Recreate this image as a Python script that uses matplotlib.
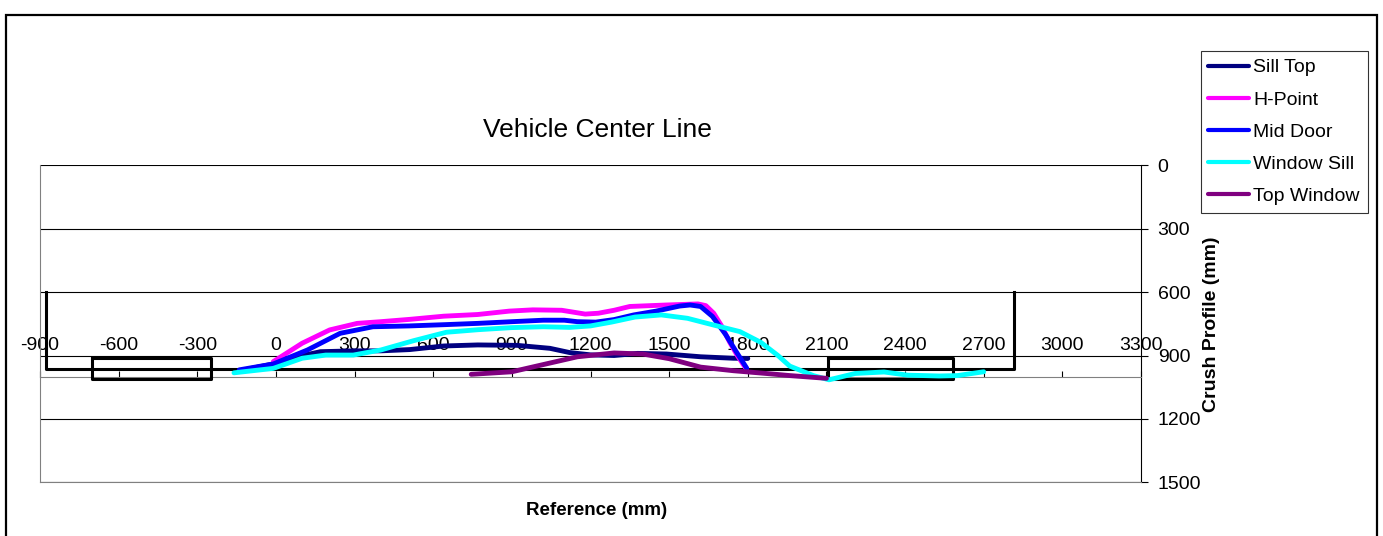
import numpy as np
import matplotlib
matplotlib.use("Agg")
import matplotlib.pyplot as plt
from matplotlib.patches import Rectangle

plt.rcParams['font.family'] = ['Liberation Sans', 'DejaVu Sans']
plt.rcParams['axes.unicode_minus'] = False

# Crush profile data (reference mm, crush mm)
sill_top_x = [-110, -10, 80, 170, 300, 400, 510, 640, 770, 920, 1045, 1120, 1200, 1290, 1380, 1490, 1620, 1745, 1800]
sill_top_y = [965, 940, 906, 882, 878, 878, 872, 855, 850, 852, 866, 886, 897, 900, 890, 893, 906, 913, 914]

h_point_x = [-10, 100, 205, 310, 400, 510, 640, 770, 890, 980, 1090, 1180, 1230, 1290, 1350, 1490, 1610, 1640, 1670, 1700, 1730, 1760, 1795]
h_point_y = [929, 842, 779, 748, 740, 729, 714, 706, 690, 684, 686, 704, 700, 686, 668, 661, 656, 664, 700, 760, 835, 900, 965]

mid_door_x = [-140, -10, 120, 245, 370, 510, 645, 770, 900, 1020, 1100, 1150, 1220, 1290, 1365, 1450, 1540, 1580, 1620, 1665, 1715, 1760, 1796]
mid_door_y = [968, 940, 874, 795, 764, 760, 754, 748, 740, 733, 733, 740, 742, 730, 708, 690, 666, 661, 668, 715, 800, 890, 960]

window_sill_x = [-160, -10, 100, 190, 295, 400, 525, 650, 770, 900, 1020, 1120, 1200, 1280, 1370, 1470, 1570, 1670, 1770, 1850, 1915, 1960, 2000, 2050, 2110, 2210, 2320, 2410, 2530, 2600, 2700]
window_sill_y = [982, 961, 913, 898, 898, 874, 830, 790, 778, 768, 764, 767, 760, 742, 718, 708, 724, 756, 787, 838, 900, 950, 970, 995, 1015, 985, 978, 993, 997, 995, 977]

top_window_x = [745, 900, 1030, 1150, 1290, 1400, 1500, 1620, 1745, 1870, 1960, 2100]
top_window_y = [989, 977, 940, 906, 888, 893, 915, 955, 972, 985, 995, 1008]

series_names = ['Sill Top', 'H-Point', 'Mid Door', 'Window Sill', 'Top Window']
series_colors = ['#000080', '#FF00FF', '#0000FF', '#00FFFF', '#800080']

# vehicle outline and wheels
outline_x = [-877, -877, 2814, 2814]
outline_y = [600, 963, 963, 600]
wheel_front_x = [-703, -249]
wheel_rear_x = [2107, 2582]
wheel_y = [912, 1012]

x_ticks = np.arange(-900, 3301, 300)
y_ticks = np.arange(0, 1501, 300)

fig = plt.figure(figsize=(13.83, 5.36), dpi=100)
ax = fig.add_axes([40/1383, 1-482.3/536, 1101/1383, 317/536])

ax.set_xlim(-900, 3300)
ax.set_ylim(1500, 0)

# outline + wheels
ax.plot(outline_x, outline_y, color='black', lw=2.2, zorder=3)
for wx in (wheel_front_x, wheel_rear_x):
    ax.plot([wx[0], wx[1], wx[1], wx[0], wx[0]],
            [wheel_y[0], wheel_y[0], wheel_y[1], wheel_y[1], wheel_y[0]],
            color='black', lw=2.2, zorder=3)

data = [(sill_top_x, sill_top_y), (h_point_x, h_point_y), (mid_door_x, mid_door_y),
        (window_sill_x, window_sill_y), (top_window_x, top_window_y)]
for (xs, ys), name, c in zip(data, series_names, series_colors):
    ax.plot(xs, ys, color=c, lw=3.5, label=name, solid_joinstyle='round',
            solid_capstyle='round', zorder=4)

# y axis on the right, reversed
ax.yaxis.tick_right()
ax.set_yticks(y_ticks)
ax.tick_params(axis='y', direction='out', length=5, width=0.8, pad=7, labelsize=14)
ax.yaxis.grid(True, color='black', lw=0.8)
ax.set_axisbelow(True)

# x axis crosses at 1000, labels above
ax.xaxis.tick_top()
ax.spines['top'].set_position(('data', 1000))
ax.spines['top'].set_color('#808080')
ax.set_xticks(x_ticks)
ax.tick_params(axis='x', direction='out', length=4, width=0.8, pad=12, labelsize=14)
ax.spines['left'].set_color('#808080')
ax.spines['bottom'].set_color('#808080')
ax.spines['right'].set_color('black')

ax.set_ylabel('Crush Profile (mm)', fontsize=14, fontweight='bold')
ax.yaxis.set_label_position('right')
ax.yaxis.set_label_coords(1.0642, 0.5)
ax.yaxis.label.set_verticalalignment('center')

fig.text(597/1383, 1-136.7/536, 'Vehicle Center Line', fontsize=19, ha='center', va='baseline')
fig.text(597/1383, 1-515/536, 'Reference (mm)', fontsize=13.5, fontweight='bold', ha='center', va='baseline')

leg = ax.legend(loc='upper left', bbox_to_anchor=(1200.7/1383, 1-51/536),
                bbox_transform=fig.transFigure, fontsize=14, frameon=True,
                fancybox=False, edgecolor='black', handlelength=2.06,
                handletextpad=0.25, labelspacing=0.75, borderpad=0.4,
                borderaxespad=0)
leg.get_frame().set_linewidth(0.8)
for line in leg.get_lines():
    line.set_linewidth(3)

# chart border
fig.patches.append(Rectangle((5.5/1383, -0.05), (1377-5.5)/1383, 1.05-15/536,
                             transform=fig.transFigure, fill=False,
                             edgecolor='black', lw=1.6))

fig.savefig('out.png', dpi=100)
